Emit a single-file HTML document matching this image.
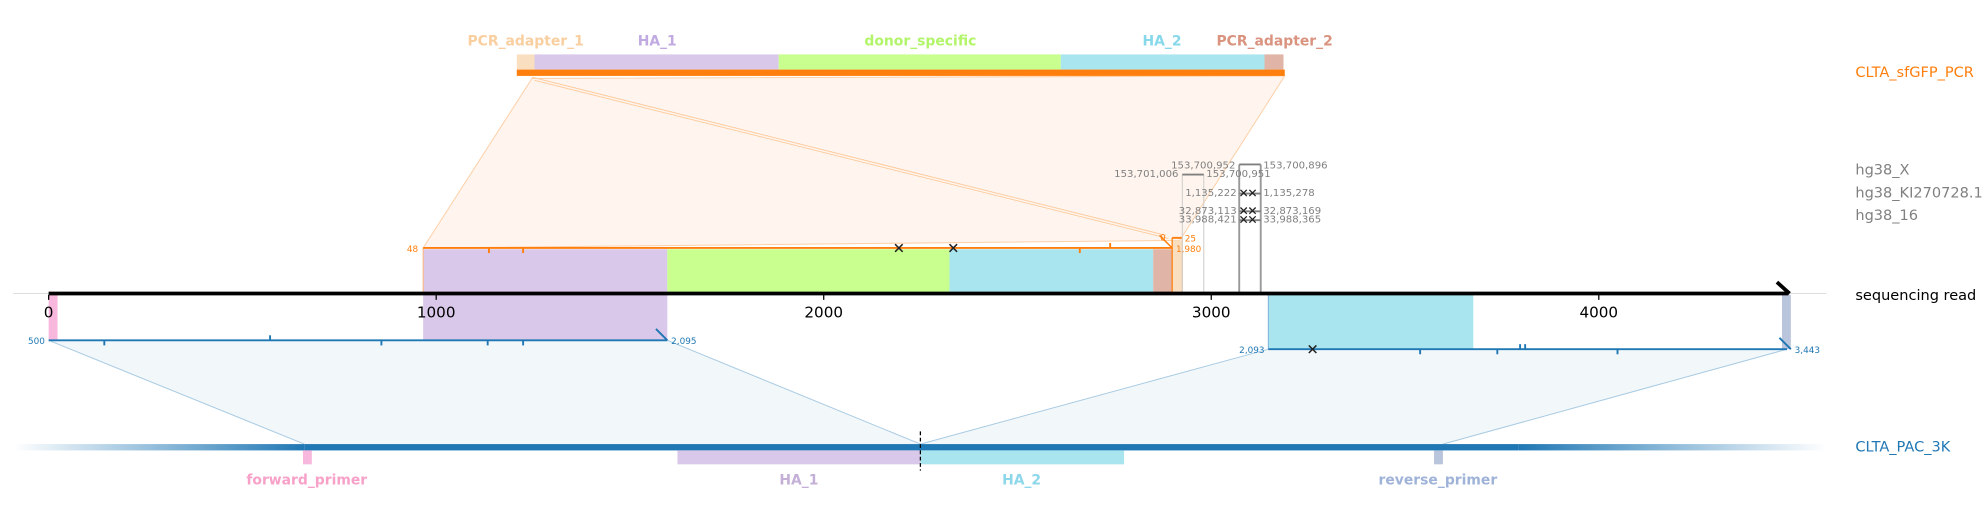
<!DOCTYPE html>
<html><head><meta charset="utf-8"><style>
html,body{margin:0;padding:0;background:#fff;}
svg{display:block;font-family:"DejaVu Sans","Liberation Sans",sans-serif;}
.b{font-weight:bold;font-size:11px;text-anchor:middle;}
.s{font-size:8px;fill:#808080;}
</style></head><body>
<svg id="c" width="1985" height="520" viewBox="0 0 1568 411">
<defs>
<linearGradient id="gl" x1="0" x2="1"><stop offset="0" stop-color="#1f77b4" stop-opacity="0"/><stop offset="1" stop-color="#1f77b4"/></linearGradient>
<linearGradient id="gr" x1="0" x2="1"><stop offset="0" stop-color="#1f77b4"/><stop offset="1" stop-color="#1f77b4" stop-opacity="0"/></linearGradient>
</defs>
<polygon points="420,62 1015,60 932,190 334,196" fill="#fff5ee" stroke="#fdd0a8" stroke-width="0.8"/>
<line x1="420" y1="61" x2="921" y2="186" stroke="#fdc898" stroke-width="0.7"/>
<line x1="422" y1="63.5" x2="923" y2="188.5" stroke="#fdc898" stroke-width="0.7"/>
<polygon points="38,269 527,269 727,351 240,351" fill="#f2f7fa"/>
<line x1="38" y1="269" x2="240" y2="351" stroke="#a9cbe3" stroke-width="0.8"/>
<line x1="527" y1="269" x2="727" y2="351" stroke="#a9cbe3" stroke-width="0.8"/>
<polygon points="1002,276 1412,276 1140,351 727,351" fill="#f2f7fa"/>
<line x1="1002" y1="276" x2="727" y2="351" stroke="#a9cbe3" stroke-width="0.8"/>
<line x1="1412" y1="276" x2="1140" y2="351" stroke="#a9cbe3" stroke-width="0.8"/>

<g>
<rect x="408" y="43" width="14" height="12" fill="#f9dfc0"/>
<rect x="422" y="43" width="193" height="12" fill="#d9c8ea"/>
<rect x="615" y="43" width="223" height="12" fill="#c8ff8f"/>
<rect x="838" y="43" width="161" height="12" fill="#a9e5ee"/>
<rect x="999" y="43" width="15" height="12" fill="#e0b4a6"/>
<rect x="408" y="55" width="607" height="5" fill="#ff7f0e"/>
<text class="b" x="415" y="36" fill="#f9cfa0">PCR_adapter_1</text>
<text class="b" x="519" y="36" fill="#c1aae2">HA_1</text>
<text class="b" x="727" y="36" fill="#b2f56a">donor_specific</text>
<text class="b" x="918" y="36" fill="#86d8ea">HA_2</text>
<text class="b" x="1007" y="36" fill="#d9937f">PCR_adapter_2</text>
</g>

<g>
<rect x="334" y="197" width="193" height="35" fill="#d9c8ea"/>
<rect x="527" y="197" width="223" height="35" fill="#c8ff8f"/>
<rect x="750" y="197" width="161" height="35" fill="#a9e5ee"/>
<rect x="911" y="197" width="15" height="35" fill="#e0b4a6"/>
<rect x="926" y="190" width="8" height="42" fill="#f9dfc0"/>
<line x1="334" y1="196" x2="334" y2="232" stroke="#fdb57a" stroke-width="0.8"/>
<line x1="334" y1="196" x2="926" y2="196" stroke="#ff7f0e" stroke-width="1.5"/>
<line x1="926" y1="188" x2="934" y2="188" stroke="#ff7f0e" stroke-width="1.5"/>
<line x1="926" y1="188" x2="926" y2="232" stroke="#ff7f0e" stroke-width="1"/>
<line x1="934" y1="188" x2="934" y2="232" stroke="#fdb57a" stroke-width="0.8"/>
<line x1="916" y1="186" x2="926" y2="196" stroke="#ff7f0e" stroke-width="1.2"/>
<g stroke="#ff7f0e" stroke-width="1.5"><line x1="386" y1="196" x2="386" y2="200"/><line x1="413" y1="196" x2="413" y2="200"/><line x1="853" y1="196" x2="853" y2="200"/><line x1="877" y1="192" x2="877" y2="196"/></g>
<g stroke="#222" stroke-width="1.2"><path d="M707,193 l6,6 M713,193 l-6,6"/><path d="M750,193 l6,6 M756,193 l-6,6"/></g>
<text x="330" y="199" font-size="7" fill="#ff7f0e" text-anchor="end">48</text>
<text x="929" y="199" font-size="7" fill="#ff7f0e">1,980</text>
<text x="936" y="191" font-size="7" fill="#ff7f0e">25</text>
<text x="921" y="190" font-size="7" fill="#ff7f0e" text-anchor="end">0</text>
</g>

<g>
<g stroke="#ccc" stroke-width="0.8"><line x1="934" y1="138" x2="934" y2="232"/><line x1="951" y1="138" x2="951" y2="232"/></g>
<g stroke="#999" stroke-width="1.5"><line x1="979" y1="130" x2="979" y2="232"/><line x1="996" y1="130" x2="996" y2="232"/></g>
<g stroke="#808080" stroke-width="1.5"><line x1="934" y1="138" x2="951" y2="138"/><line x1="979" y1="130" x2="996" y2="130"/><line x1="979" y1="153" x2="996" y2="153"/><line x1="979" y1="167" x2="996" y2="167"/><line x1="979" y1="174" x2="996" y2="174"/></g>
<g stroke="#222" stroke-width="1"><path d="M980,150 l5,5 M985,150 l-5,5 M987,150 l5,5 M992,150 l-5,5"/><path d="M980,164 l5,5 M985,164 l-5,5 M987,164 l5,5 M992,164 l-5,5"/><path d="M980,171 l5,5 M985,171 l-5,5 M987,171 l5,5 M992,171 l-5,5"/></g>
<text class="s" x="931" y="140" text-anchor="end">153,701,006</text>
<text class="s" x="976" y="133" text-anchor="end">153,700,952</text>
<text class="s" x="953" y="140">153,700,951</text>
<text class="s" x="998" y="133">153,700,896</text>
<text class="s" x="977" y="155" text-anchor="end">1,135,222</text>
<text class="s" x="998" y="155">1,135,278</text>
<text class="s" x="977" y="169" text-anchor="end">32,873,113</text>
<text class="s" x="998" y="169">32,873,169</text>
<text class="s" x="977" y="176" text-anchor="end">33,988,421</text>
<text class="s" x="998" y="176">33,988,365</text>
</g>

<g>
<rect x="38" y="233" width="7" height="36" fill="#f8b7dc"/>
<rect x="334" y="233" width="193" height="36" fill="#d9c8ea"/>
<rect x="1002" y="233" width="162" height="43" fill="#a9e5ee"/>
<rect x="1408" y="233" width="7" height="43" fill="#b9c4dd"/>
<line x1="1002" y1="233" x2="1002" y2="276" stroke="#7fb0d8" stroke-width="0.8"/>
<line x1="38" y1="269" x2="527" y2="269" stroke="#1f77b4" stroke-width="1.5"/>
<line x1="1002" y1="276" x2="1412" y2="276" stroke="#1f77b4" stroke-width="1.5"/>
<line x1="518" y1="260" x2="527" y2="269" stroke="#1f77b4" stroke-width="1.5"/>
<line x1="1406" y1="267" x2="1415" y2="276" stroke="#1f77b4" stroke-width="1.5"/>
<g stroke="#1f77b4" stroke-width="1.5"><line x1="82" y1="269" x2="82" y2="273"/><line x1="213" y1="265" x2="213" y2="269"/><line x1="301" y1="269" x2="301" y2="273"/><line x1="385" y1="269" x2="385" y2="273"/><line x1="413" y1="269" x2="413" y2="273"/><line x1="1122" y1="276" x2="1122" y2="280"/><line x1="1183" y1="276" x2="1183" y2="280"/><line x1="1201" y1="272" x2="1201" y2="276"/><line x1="1205" y1="272" x2="1205" y2="276"/><line x1="1278" y1="276" x2="1278" y2="280"/></g>
<path d="M1034,273 l6,6 M1040,273 l-6,6" stroke="#222" stroke-width="1.2"/>
<text x="35" y="272" font-size="7" fill="#1f77b4" text-anchor="end">500</text>
<text x="530" y="272" font-size="7" fill="#1f77b4">2,095</text>
<text x="999" y="279" font-size="7" fill="#1f77b4" text-anchor="end">2,093</text>
<text x="1418" y="279" font-size="7" fill="#1f77b4">3,443</text>
</g>

<g id="axis">
<line x1="10" y1="232" x2="1443" y2="232" stroke="#ddd" stroke-width="0.8"/>
<line x1="38" y1="232" x2="1413" y2="232" stroke="#000" stroke-width="3"/>
<line x1="1404" y1="223" x2="1414" y2="232" stroke="#000" stroke-width="3"/>
</g>

<g>
<rect x="10" y="351" width="230" height="5" fill="url(#gl)"/>
<rect x="240" y="351" width="960" height="5" fill="#1f77b4"/>
<rect x="1200" y="351" width="243" height="5" fill="url(#gr)"/>
<rect x="239" y="356" width="7" height="11" fill="#f8b7dc"/>
<rect x="535" y="356" width="192" height="11" fill="#d9c8ea"/>
<rect x="727" y="356" width="161" height="11" fill="#a9e5ee"/>
<rect x="1133" y="356" width="7" height="11" fill="#b9c4dd"/>
<line x1="727" y1="341" x2="727" y2="372" stroke="#000" stroke-width="1" stroke-dasharray="3,2"/>
<text class="b" x="242" y="383" fill="#f7a1c9">forward_primer</text>
<text class="b" x="631" y="383" fill="#c4b0d6">HA_1</text>
<text class="b" x="807" y="383" fill="#8cd7ea">HA_2</text>
<text class="b" x="1136" y="383" fill="#9fb3d8">reverse_primer</text>
</g>

<g font-size="11.5">
<text x="1466" y="61" fill="#ff7f0e">CLTA_sfGFP_PCR</text>
<text x="1466" y="138" fill="#808080">hg38_X</text>
<text x="1466" y="156" fill="#808080">hg38_KI270728.1</text>
<text x="1466" y="174" fill="#808080">hg38_16</text>
<text x="1466" y="237" fill="#000">sequencing read</text>
<text x="1466" y="357" fill="#1f77b4">CLTA_PAC_3K</text>
</g>
</svg>
<script>
const tickValues = [0, 1000, 2000, 3000, 4000];
const tickLabels = ["0", "1000", "2000", "3000", "4000"];
const NS = "http://www.w3.org/2000/svg";
function xScale(bp){ return 38 + bp * 0.3063; }
const axis = document.getElementById('axis');
tickValues.forEach((v, i) => {
  const x = xScale(v);
  const t = document.createElementNS(NS, 'line');
  t.setAttribute('x1', x); t.setAttribute('x2', x);
  t.setAttribute('y1', 233); t.setAttribute('y2', 237);
  t.setAttribute('stroke', '#000'); t.setAttribute('stroke-width', '1');
  
  
  axis.appendChild(t);
  const l = document.createElementNS(NS, 'text');
  l.setAttribute('x', x); l.setAttribute('y', 251);
  l.setAttribute('text-anchor', 'middle'); l.setAttribute('font-size', '12');
  l.textContent = tickLabels[i];
  
  
  axis.appendChild(l);
});
</script>
</body></html>
